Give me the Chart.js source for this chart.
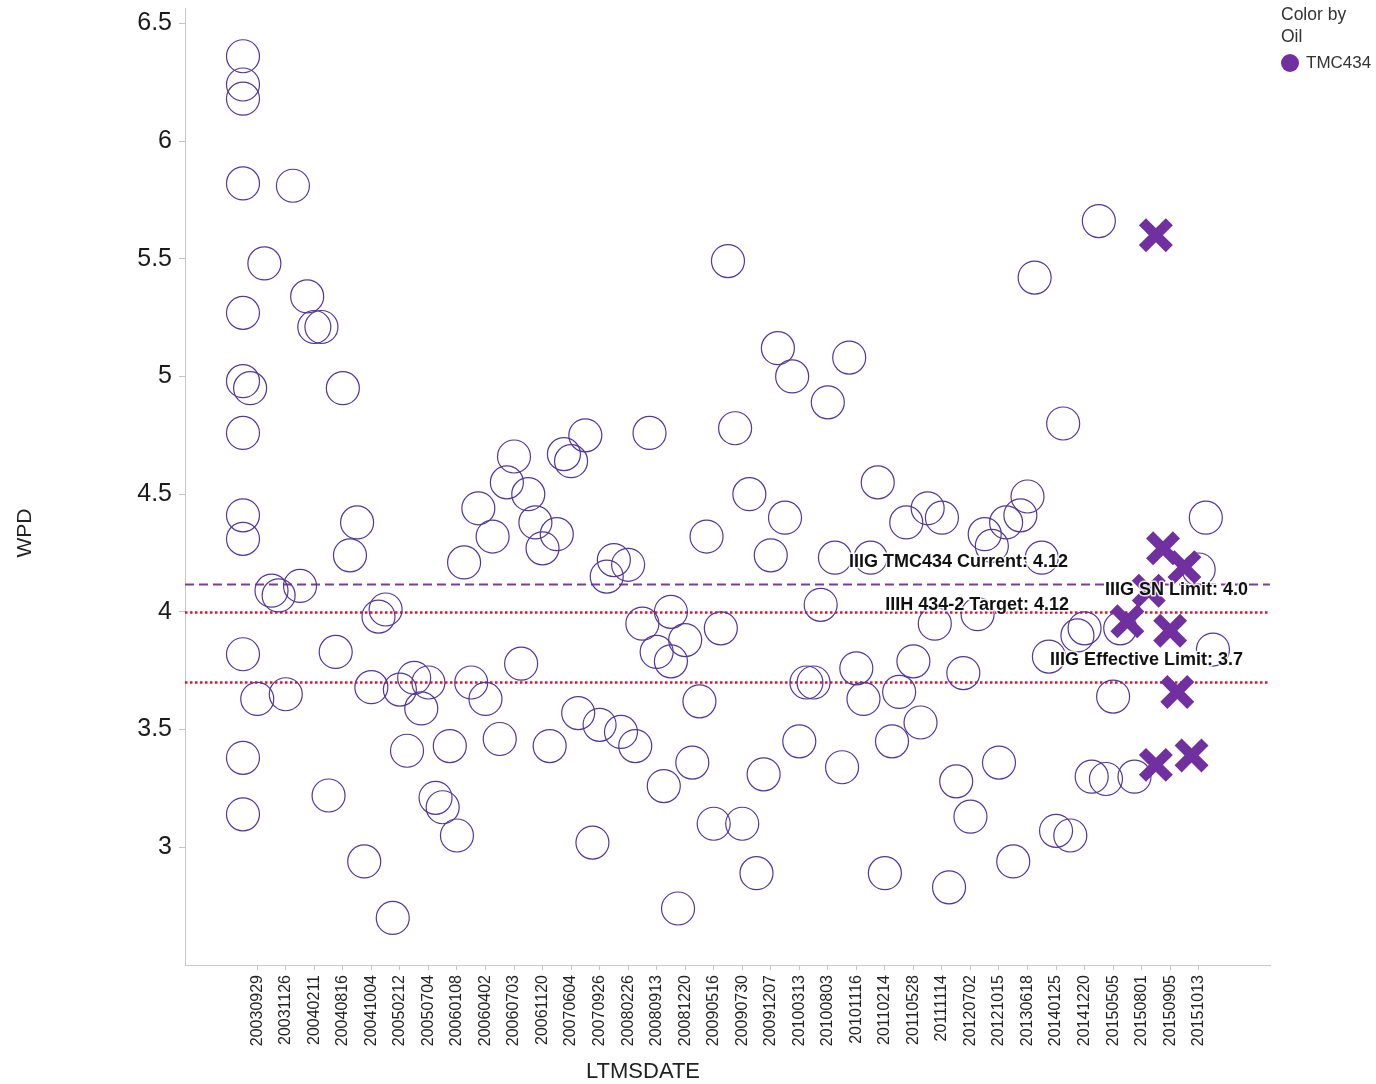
<!DOCTYPE html>
<html>
<head>
<meta charset="utf-8">
<title>WPD by LTMSDATE</title>
<script src="https://cdn.jsdelivr.net/npm/chart.js@4.4.1/dist/chart.umd.min.js"></script>
<style>
  html, body { margin: 0; padding: 0; background: #ffffff; }
  #wrap { position: relative; width: 1376px; height: 1084px; overflow: hidden; }
  #chart { position: absolute; left: 0; top: 0; }
  .legend { position: absolute; left: 1281px; top: 3px; font: 17.5px "Liberation Sans", Arial, sans-serif; color: #333; line-height: 22px; }
  .legend .row { display: flex; align-items: center; margin-top: 5px; margin-left: 0px; font-size: 17px; }
  .legend .dot { width: 18px; height: 18px; border-radius: 50%; background: #7030a0; margin-right: 7px; }
</style>
</head>
<body>
<div id="wrap">
  <canvas id="chart" width="1376" height="1084"></canvas>
  <div class="legend">
    <div>Color by</div>
    <div>Oil</div>
    <div class="row"><span class="dot"></span><span>TMC434</span></div>
  </div>
</div>
<script>
// Test dates shown on the axis (every fourth date slot is labelled)
const dateLabels = [
  '20030929', '20031126', '20040211', '20040816', '20041004', '20050212',
  '20050704', '20060108', '20060402', '20060703', '20061120', '20070604',
  '20070926', '20080226', '20080913', '20081220', '20090516', '20090730',
  '20091207', '20100313', '20100803', '20101116', '20110214', '20110528',
  '20111114', '20120702', '20121015', '20130618', '20140125', '20141220',
  '20150505', '20150801', '20150905', '20151013'
];
// Date slot of each labelled date
const labelSlots = [
  2, 6, 10, 14, 18, 22, 26, 30, 34, 38, 42, 46, 50, 54, 58, 62, 66,
  70, 74, 78, 82, 86, 90, 94, 98, 102, 106, 110, 114, 118, 122, 126, 130, 134
];
const yTicks = [3, 3.5, 4, 4.5, 5, 5.5, 6, 6.5];

// Reference oil results: date slot and WPD
const refSlot = [
  0, 0, 0, 0, 0, 0, 0, 0, 0, 0, 0, 0,
  1, 2, 3, 4, 5, 6, 7, 8, 9, 10, 11, 12, 13, 14, 15, 16, 17, 18, 19, 20,
  21, 22, 23, 24, 25, 26, 27, 28, 29, 30, 31, 32, 33, 34, 35, 36, 37, 38, 39, 40,
  41, 42, 43, 44, 45, 46, 47, 48, 49, 50, 51, 52, 53, 54, 55, 56, 57, 58, 59, 60, 60,
  61, 62, 63, 64, 65, 66, 67, 68, 69, 70, 71, 72, 73, 74, 75, 76, 77, 78, 79, 80,
  81, 82, 83, 84, 85, 86, 87, 88, 89, 90, 91, 92, 93, 94, 95, 96, 97, 98, 99, 100,
  101, 102, 103, 104, 105, 106, 107, 108, 109, 110, 111, 112, 113, 114, 115, 116, 117, 118, 119, 120,
  121, 122, 123, 125, 134, 135, 136
];
const refWpd = [
  6.36, 6.24, 6.18, 5.82, 5.27, 4.98, 4.76, 4.41, 4.31, 3.82, 3.38, 3.14,
  4.95, 3.63, 5.48, 4.09, 4.07, 3.65, 5.81, 4.11, 5.34, 5.21, 5.21, 3.22, 3.83, 4.95, 4.24, 4.38, 2.94, 3.68, 3.98, 4.01,
  2.70, 3.67, 3.41, 3.72, 3.59, 3.70, 3.21, 3.17, 3.43, 3.05, 4.21, 3.70, 4.44, 3.63, 4.32, 3.46, 4.55, 4.66, 3.78, 4.50,
  4.38, 4.27, 3.43, 4.33, 4.67, 4.64, 3.57, 4.75, 3.02, 3.52, 4.15, 4.22, 3.49, 4.20, 3.43, 3.95, 4.76, 3.83, 3.26, 4.00, 3.79,
  2.74, 3.88, 3.36, 3.62, 4.32, 3.10, 3.93, 5.49, 4.78, 3.10, 4.50, 2.89, 3.31, 4.24, 5.12, 4.40, 5.00, 3.45, 3.70, 3.70,
  4.03, 4.89, 4.23, 3.34, 5.08, 3.76, 3.63, 4.23, 4.55, 2.89, 3.45, 3.66, 4.38, 3.79, 3.53, 4.44, 3.95, 4.40, 2.83, 3.28,
  3.74, 3.13, 3.99, 4.33, 4.28, 3.36, 4.38, 2.94, 4.41, 4.49, 5.42, 4.23, 3.81, 3.07, 4.80, 3.05, 3.90, 3.93, 3.30, 5.66,
  3.29, 3.64, 3.93, 3.30, 4.18, 4.40, 3.84
];

// TMC434 results: date slot and WPD
const tmcSlot = [124, 127, 128, 128, 129, 130, 131, 132, 133];
const tmcWpd  = [3.96, 4.09, 5.60, 3.35, 4.27, 3.92, 3.66, 4.19, 3.39];

// Limit / target lines
const limitValues = [4.12, 4.0, 3.7];
const limitNames = [
  'IIIG TMC434 Current: 4.12',
  'IIIH 434-2 Target: 4.12',
  'IIIG SN Limit: 4.0',
  'IIIG Effective Limit: 3.7'
];

const FONT = '"Liberation Sans", Arial, Helvetica, sans-serif';
const PURPLE = '#7030a0';

const refPoints = refSlot.map((s, i) => ({ x: s, y: refWpd[i] }));
const tmcPoints = tmcSlot.map((s, i) => ({ x: s, y: tmcWpd[i] }));

// keep the plot area fixed: no extra room for overhanging tick labels
function noOverhang(s) {
  s.paddingTop = 0; s.paddingBottom = 0; s.paddingLeft = 0; s.paddingRight = 0;
}

const overlay = {
  id: 'overlay',
  beforeDatasetsDraw(chart) {
    const { ctx, chartArea, scales } = chart;
    const y = scales.y;
    ctx.save();
    // dashed purple line
    ctx.strokeStyle = '#7a3aa6';
    ctx.lineWidth = 2;
    ctx.setLineDash([9, 5]);
    let py = Math.round(y.getPixelForValue(limitValues[0])) + 0.5;
    ctx.beginPath(); ctx.moveTo(chartArea.left, py); ctx.lineTo(chartArea.right, py); ctx.stroke();
    // dotted red lines
    ctx.strokeStyle = '#e8102c';
    ctx.lineWidth = 2.5;
    ctx.setLineDash([2.5, 2.5]);
    for (let k = 1; k < limitValues.length; k++) {
      py = Math.round(y.getPixelForValue(limitValues[k])) + 0.5;
      ctx.beginPath(); ctx.moveTo(chartArea.left, py); ctx.lineTo(chartArea.right, py); ctx.stroke();
    }
    ctx.restore();
  },
  afterDatasetsDraw(chart) {
    const { ctx, scales } = chart;
    const y = scales.y;
    // label placement: right edge x, anchor line value, vertical offset
    const place = [
      [1068, limitValues[0], -22],
      [1069, limitValues[1], -7],
      [1248, limitValues[1], -22],
      [1243, limitValues[2], -22]
    ];
    ctx.save();
    ctx.font = 'bold 18px ' + FONT;
    ctx.textAlign = 'right';
    ctx.textBaseline = 'middle';
    ctx.lineJoin = 'round';
    limitNames.forEach((t, i) => {
      const [rx, v, dy] = place[i];
      const py = y.getPixelForValue(v) + dy;
      ctx.strokeStyle = 'rgba(255,255,255,0.85)';
      ctx.lineWidth = 3;
      ctx.strokeText(t, rx, py);
      ctx.fillStyle = '#111';
      ctx.fillText(t, rx, py);
    });
    ctx.restore();
  },
  afterDraw(chart) {
    const { ctx } = chart;
    ctx.save();
    ctx.fillStyle = '#222';
    ctx.textAlign = 'center';
    ctx.textBaseline = 'middle';
    ctx.font = '22px ' + FONT;
    ctx.fillText('LTMSDATE', 643, 1072);
    ctx.translate(25, 533);
    ctx.rotate(-Math.PI / 2);
    ctx.font = '21px ' + FONT;
    ctx.fillText('WPD', 0, 0);
    ctx.restore();
  }
};

new Chart(document.getElementById('chart'), {
  type: 'scatter',
  data: {
    datasets: [
      {
        label: 'TMC434',
        data: tmcPoints,
        pointStyle: 'crossRot',
        pointRadius: 19,
        pointHoverRadius: 19,
        borderColor: PURPLE,
        backgroundColor: PURPLE,
        borderWidth: 10,
        order: 0
      },
      {
        label: 'Reference',
        data: refPoints,
        pointStyle: 'circle',
        pointRadius: 16.5,
        pointHoverRadius: 16.5,
        borderColor: '#53389a',
        backgroundColor: 'rgba(0,0,0,0)',
        borderWidth: 1.2,
        order: 1
      }
    ]
  },
  options: {
    responsive: false,
    animation: false,
    events: [],
    layout: { autoPadding: false, padding: { left: 0, right: 106, top: 8, bottom: 0 } },
    plugins: { legend: { display: false }, tooltip: { enabled: false } },
    scales: {
      x: {
        type: 'linear',
        min: -8.13,
        max: 144.0,
        afterFit(s) { s.height = 119; noOverhang(s); },
        afterBuildTicks(s) { s.ticks = labelSlots.map(v => ({ value: v })); },
        ticks: {
          autoSkip: false,
          maxRotation: 90,
          minRotation: 90,
          padding: 5,
          color: '#222',
          font: { family: FONT, size: 16 },
          callback: (v, i) => dateLabels[i]
        },
        grid: { display: true, drawOnChartArea: false, tickLength: 5, color: '#c4c4c4' },
        border: { display: true, color: '#c8c8c8', width: 1 }
      },
      y: {
        type: 'linear',
        min: 2.5,
        max: 6.565,
        afterFit(s) { s.width = 185; noOverhang(s); },
        afterBuildTicks(s) { s.ticks = yTicks.map(v => ({ value: v })); },
        ticks: {
          padding: 7,
          color: '#1a1a1a',
          font: { family: FONT, size: 25 },
          callback: v => String(v)
        },
        grid: { display: true, drawOnChartArea: false, tickLength: 6, color: '#c4c4c4' },
        border: { display: true, color: '#c8c8c8', width: 1 }
      }
    }
  },
  plugins: [overlay]
});
</script>
</body>
</html>
